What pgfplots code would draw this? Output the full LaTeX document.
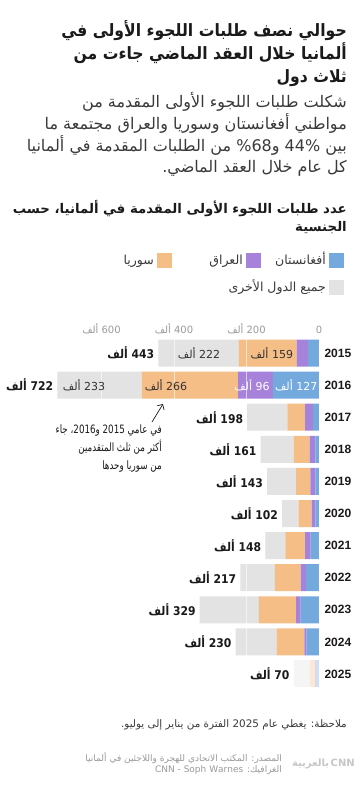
\documentclass[border=0pt]{standalone}
\usepackage{pgfplots}
\usepackage{pgfplotstable}
\pgfplotsset{compat=1.18}
\usetikzlibrary{arrows.meta}
\usepackage{fontspec}
\setmainfont{Liberation Sans}
\newfontfamily\arfont[Script=Arabic]{DejaVu Sans}
\newfontfamily\artitle[Script=Arabic, FakeStretch=0.92]{DejaVu Sans}
\newfontfamily\artot[Script=Arabic, FakeStretch=0.9]{DejaVu Sans}
\newfontfamily\arcond[Script=Arabic, FakeStretch=0.76]{DejaVu Sans}
\TeXXeTstate=1
\newcommand{\AR}[1]{{\beginR #1\endR}}
\definecolor{afg}{HTML}{74A9DE}
\definecolor{irq}{HTML}{A782DB}
\definecolor{syr}{HTML}{F5BE87}
\definecolor{oth}{HTML}{E3E3E3}
\definecolor{txt}{HTML}{1A1A1A}
\definecolor{gtxt}{HTML}{3A3A3A}
\definecolor{ltxt}{HTML}{9A9A9A}
\definecolor{stxt}{HTML}{333333}

\pgfplotstableread{
year afg irq syr oth
2015 31 31 159 222
2016 127 96 266 233
2017 16 22 49 111
2018 10 16 44 91
2019 10 14 39 80
2020 10 10 36 46
2021 23 15 55 55
2022 36 15 71 95
2023 51 12 103 163
2024 34 6 77 113
}\mainT
\pgfplotstableread{
year afg irq syr oth
2025 9 3 14 44
}\partT

\tikzset{
  tot/.style={anchor=east, inner sep=0pt, text=txt, font=\artot\bfseries\fontsize{12}{14}\selectfont},
  seg/.style={anchor=center, inner sep=0pt, text=stxt, font=\arfont\fontsize{11}{13}\selectfont},
  rt/.style={anchor=base east, inner sep=0pt},
}

\pgfplotsset{
  common/.style={
    at={(174pt,-513.5pt)}, anchor=center,
    scale only axis, width=290pt, height=353pt,
    xmin=0, xmax=800, ymin=2014.5, ymax=2025.5,
    x dir=reverse, y dir=reverse,
    xbar stacked, bar width=27pt,
    clip=false,
  }
}

\begin{document}
\begin{tikzpicture}
\fill[white] (0pt,0pt) rectangle (360pt,-786pt);
\useasboundingbox (0pt,0pt) rectangle (360pt,-786pt);

% Title
\node[rt, text=txt, font=\artitle\bfseries\fontsize{17}{20}\selectfont] at (347pt,-37pt) {\AR{حوالي نصف طلبات اللجوء الأولى في}};
\node[rt, text=txt, font=\artitle\bfseries\fontsize{17}{20}\selectfont] at (347pt,-60pt) {\AR{ألمانيا خلال العقد الماضي جاءت من}};
\node[rt, text=txt, font=\artitle\bfseries\fontsize{17}{20}\selectfont] at (347pt,-83pt) {\AR{ثلاث دول}};
\node[rt, text=gtxt, font=\arfont\fontsize{16}{19}\selectfont] at (347pt,-108pt) {\AR{شكلت طلبات اللجوء الأولى المقدمة من}};
\node[rt, text=gtxt, font=\arfont\fontsize{16}{19}\selectfont] at (347pt,-130pt) {\AR{مواطني أفغانستان وسوريا والعراق مجتمعة ما}};
\node[rt, text=gtxt, font=\arfont\fontsize{16}{19}\selectfont] at (347pt,-152pt) {\AR{بين 44\% و68\% من الطلبات المقدمة في ألمانيا}};
\node[rt, text=gtxt, font=\arfont\fontsize{16}{19}\selectfont] at (347pt,-173pt) {\AR{كل عام خلال العقد الماضي.}};
\node[rt, text=txt, font=\arfont\bfseries\fontsize{13.3}{16}\selectfont] at (347pt,-214pt) {\AR{عدد طلبات اللجوء الأولى المقدمة في ألمانيا، حسب}};
\node[rt, text=txt, font=\arfont\bfseries\fontsize{13.3}{16}\selectfont] at (347pt,-232pt) {\AR{الجنسية}};

% Legend
\fill[afg] (329pt,-252.5pt) rectangle (344pt,-267.5pt);
\fill[irq] (246pt,-252.5pt) rectangle (261pt,-267.5pt);
\fill[syr] (157pt,-252.5pt) rectangle (172pt,-267.5pt);
\fill[oth] (329pt,-279.5pt) rectangle (344pt,-294.5pt);
\node[rt, text=gtxt, font=\arfont\fontsize{12.5}{14}\selectfont] at (326pt,-264pt) {\AR{أفغانستان}};
\node[rt, text=gtxt, font=\arfont\fontsize{12.5}{14}\selectfont] at (243pt,-264pt) {\AR{العراق}};
\node[rt, text=gtxt, font=\arfont\fontsize{12.5}{14}\selectfont] at (154pt,-264pt) {\AR{سوريا}};
\node[rt, text=gtxt, font=\arfont\fontsize{12.5}{14}\selectfont] at (326pt,-291pt) {\AR{جميع الدول الأخرى}};

\begin{axis}[common,
  axis line style={draw=none}, tick style={draw=none},
  xtick={0,200,400,600},
  xticklabels={0,\AR{200 ألف},\AR{400 ألف},\AR{600 ألف}},
  xticklabel pos=top,
  xticklabel style={font=\arfont\fontsize{10}{12}\selectfont, text=ltxt},
  ytick={2015,2016,2017,2018,2019,2020,2021,2022,2023,2024,2025},
  yticklabels={2015,2016,2017,2018,2019,2020,2021,2022,2023,2024,2025},
  yticklabel pos=right,
  yticklabel style={font=\bfseries\fontsize{12}{14}\selectfont, text=txt, xshift=2pt},
  xmajorgrids, major grid style={white, opacity=0.6, line width=0.6pt},
  axis on top,
]
\addplot[fill=afg, draw=none] table[x=afg, y=year] {\mainT};
\addplot[fill=irq, draw=none] table[x=irq, y=year] {\mainT};
\addplot[fill=syr, draw=none] table[x=syr, y=year] {\mainT};
\addplot[fill=oth, draw=none] table[x=oth, y=year] {\mainT};
\end{axis}

\begin{axis}[common, hide axis]
\addplot[fill=afg, draw=none, fill opacity=0.35] table[x=afg, y=year] {\partT};
\addplot[fill=irq, draw=none, fill opacity=0.35] table[x=irq, y=year] {\partT};
\addplot[fill=syr, draw=none, fill opacity=0.35] table[x=syr, y=year] {\partT};
\addplot[fill=oth, draw=none, fill opacity=0.35] table[x=oth, y=year] {\partT};
\node[tot] at (axis cs:454,2015) {\AR{443 ألف}};
\node[tot] at (axis cs:733,2016) {\AR{722 ألف}};
\node[tot] at (axis cs:209,2017) {\AR{198 ألف}};
\node[tot] at (axis cs:172,2018) {\AR{161 ألف}};
\node[tot] at (axis cs:154,2019) {\AR{143 ألف}};
\node[tot] at (axis cs:113,2020) {\AR{102 ألف}};
\node[tot] at (axis cs:159,2021) {\AR{148 ألف}};
\node[tot] at (axis cs:228,2022) {\AR{217 ألف}};
\node[tot] at (axis cs:340,2023) {\AR{329 ألف}};
\node[tot] at (axis cs:241,2024) {\AR{230 ألف}};
\node[tot] at (axis cs:81,2025) {\AR{70 ألف}};
\node[seg] at (axis cs:130,2015) {\AR{159 ألف}};
\node[seg] at (axis cs:331,2015) {\AR{222 ألف}};
\node[seg, text=white] at (axis cs:63,2016) {\AR{127 ألف}};
\node[seg, text=white] at (axis cs:185,2016) {\AR{96 ألف}};
\node[seg] at (axis cs:422,2016) {\AR{266 ألف}};
\node[seg] at (axis cs:648,2016) {\AR{233 ألف}};
\end{axis}

% annotation
\draw[txt, line width=0.7pt, -{Straight Barb[length=4pt]}] (152pt,-422pt) -- (163pt,-404pt);
\node[rt, text=txt, font=\arcond\fontsize{11.5}{14}\selectfont] at (162pt,-433pt) {\AR{في عامي 2015 و2016، جاء}};
\node[rt, text=txt, font=\arcond\fontsize{11.5}{14}\selectfont] at (162pt,-451pt) {\AR{أكثر من ثلث المتقدمين}};
\node[rt, text=txt, font=\arcond\fontsize{11.5}{14}\selectfont] at (162pt,-469pt) {\AR{من سوريا وحدها}};

% note and source
\node[rt, text=gtxt, font=\arfont\fontsize{10.4}{13}\selectfont] at (347pt,-727pt) {\AR{ملاحظة: يغطي عام 2025 الفترة من يناير إلى يوليو.}};
\node[rt, text=ltxt, font=\arfont\fontsize{9}{10}\selectfont] at (282pt,-761pt) {\AR{المصدر: المكتب الاتحادي للهجرة واللاجئين في ألمانيا}};
\node[rt, text=ltxt, font=\arfont\fontsize{9}{10}\selectfont] at (282pt,-772pt) {\AR{الغرافيك: \beginL CNN - Soph Warnes\endL}};
\node[rt, text=black!22, font=\arfont\bfseries\fontsize{10}{12}\selectfont] at (355pt,-766pt) {\AR{بالعربية}\,CNN};
\end{tikzpicture}
\end{document}
